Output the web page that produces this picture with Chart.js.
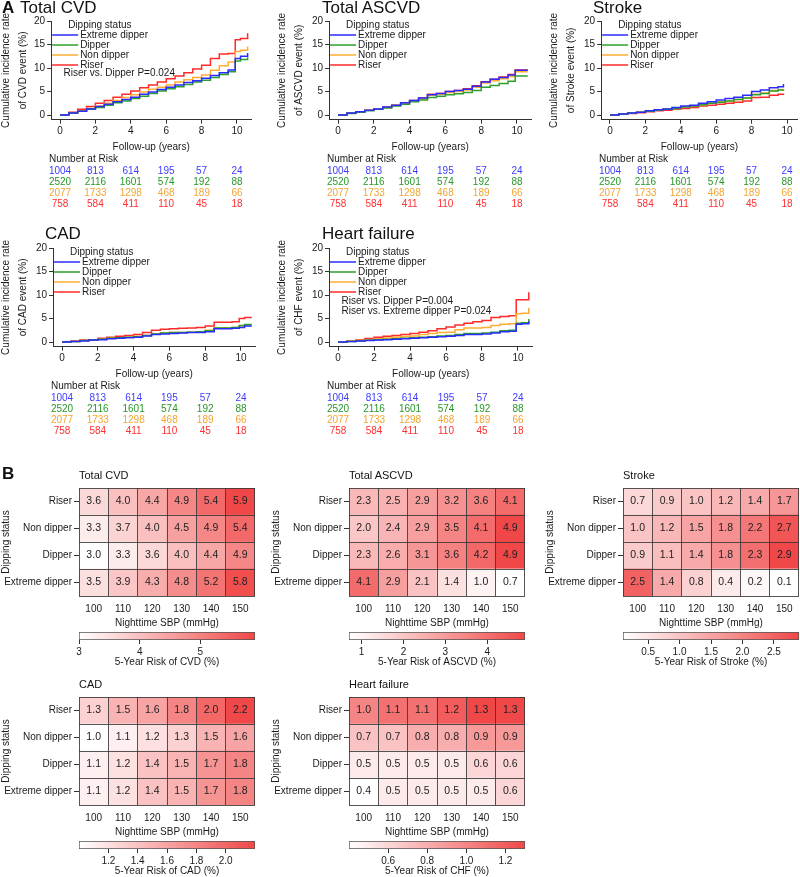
<!DOCTYPE html>
<html lang="en">
<head>
<meta charset="UTF-8">
<title>Dipping status, nighttime SBP and cardiovascular risk</title>
<script src="https://cdn.jsdelivr.net/npm/chart.js"></script>
<style>
  body { margin: 0; background: #fff; }
  #fig { position: relative; width: 800px; height: 877px; overflow: hidden; font-family: "Liberation Sans", Arial, sans-serif; color: #111; }
  #fig canvas { position: absolute; }
  .lbl { position: absolute; line-height: 1; white-space: nowrap; z-index: 2; }
  .letter { font-weight: bold; font-size: 17px; }
  .kmTitle { font-size: 17px; }
  .heatTitle { font-size: 11px; }
</style>
</head>
<body>
<div id="fig">
  <div class="lbl letter" style="left:2px;top:-1px">A</div>
  <div class="lbl kmTitle" style="left:20px;top:-1px">Total CVD</div>
  <div class="lbl kmTitle" style="left:322px;top:-1px">Total ASCVD</div>
  <div class="lbl kmTitle" style="left:593px;top:-1px">Stroke</div>
  <div class="lbl kmTitle" style="left:45px;top:225px">CAD</div>
  <div class="lbl kmTitle" style="left:322px;top:225px">Heart failure</div>

  <div class="lbl letter" style="left:2px;top:465px">B</div>
  <div class="lbl heatTitle" style="left:79px;top:470px">Total CVD</div>
  <div class="lbl heatTitle" style="left:349px;top:470px">Total ASCVD</div>
  <div class="lbl heatTitle" style="left:623px;top:470px">Stroke</div>
  <div class="lbl heatTitle" style="left:79px;top:679px">CAD</div>
  <div class="lbl heatTitle" style="left:349px;top:679px">Heart failure</div>

  <canvas id="kmCVD"></canvas>
  <canvas id="kmASCVD"></canvas>
  <canvas id="kmStroke"></canvas>
  <canvas id="kmCAD"></canvas>
  <canvas id="kmHF"></canvas>

  <canvas id="heatCVD"></canvas><canvas id="barCVD"></canvas>
  <canvas id="heatASCVD"></canvas><canvas id="barASCVD"></canvas>
  <canvas id="heatStroke"></canvas><canvas id="barStroke"></canvas>
  <canvas id="heatCAD"></canvas><canvas id="barCAD"></canvas>
  <canvas id="heatHF"></canvas><canvas id="barHF"></canvas>
</div>
<script>
// ---- shared labels / colours ----
const statusNames = ['Extreme dipper', 'Dipper', 'Non dipper', 'Riser'];
const statusColors = ['#2b2bff', '#2ca02c', '#ffad33', '#ff2b2b'];
const riskColors = ['#3c3cff', '#2a962a', '#f2a532', '#ff3030'];

// ---- panel A: cumulative incidence (%) ----
const kmXTicks = [0, 2, 4, 6, 8, 10];
const kmYTicks = [0, 5, 10, 15, 20];
const kmTimes = [0, 0.5, 1, 1.5, 2, 2.5, 3, 3.5, 4, 4.5, 5, 5.5, 6, 6.5, 7, 7.5, 8, 8.5, 9, 9.5, 9.9, 10.2, 10.6];
const strokeTimes = [0, 0.5, 1, 1.5, 2, 2.5, 3, 3.5, 4, 4.5, 5, 5.5, 6, 6.5, 7, 7.5, 8, 8.5, 9, 9.5, 9.8];

const cvdExtreme = [0, 0.4, 0.8, 1.3, 1.8, 2.3, 2.8, 3.3, 3.8, 4.4, 4.9, 5.4, 5.9, 6.4, 6.9, 7.3, 7.8, 8.4, 9.0, 9.6, 12.0, 12.5, 13.2];
const cvdDipper  = [0, 0.4, 0.8, 1.2, 1.6, 2.1, 2.6, 3.0, 3.5, 4.0, 4.6, 5.1, 5.6, 6.0, 6.5, 7.0, 7.4, 8.0, 8.6, 9.2, 11.5, 11.8, 12.3];
const cvdNon     = [0, 0.45, 0.9, 1.4, 1.9, 2.5, 3.1, 3.7, 4.3, 4.9, 5.5, 5.9, 6.4, 7.0, 7.5, 8.0, 8.5, 9.5, 10.5, 11.3, 13.5, 13.8, 14.6];
const cvdRiser   = [0, 0.6, 1.2, 1.8, 2.5, 3.1, 3.8, 4.4, 5.1, 5.8, 6.4, 7.0, 7.7, 8.3, 9.0, 9.8, 10.6, 12.0, 13.0, 13.1, 16.0, 16.3, 17.4];

const ascvdExtreme = [0, 0.4, 0.7, 1.0, 1.3, 1.7, 2.1, 2.6, 3.1, 3.6, 4.3, 4.6, 5.0, 5.2, 5.5, 6.1, 7.0, 7.6, 8.0, 8.5, 9.5, 9.5, 9.5];
const ascvdDipper  = [0, 0.3, 0.6, 0.9, 1.2, 1.5, 1.9, 2.3, 2.8, 3.2, 3.7, 4.0, 4.3, 4.5, 4.8, 5.2, 5.9, 6.3, 6.7, 7.2, 8.3, 8.3, 8.3];
const ascvdNon     = [0, 0.4, 0.7, 1.0, 1.3, 1.6, 2.0, 2.5, 3.0, 3.4, 4.2, 4.4, 4.8, 5.0, 5.3, 5.9, 6.8, 7.3, 7.7, 8.2, 9.2, 9.2, 9.2];
const ascvdRiser   = [0, 0.4, 0.7, 1.0, 1.3, 1.7, 2.1, 2.6, 3.1, 3.6, 4.4, 4.6, 5.0, 5.2, 5.6, 6.2, 7.1, 7.6, 8.1, 8.6, 9.6, 9.6, 9.6];

const strokeExtreme = [0, 0.2, 0.4, 0.6, 0.9, 1.1, 1.3, 1.6, 1.9, 2.1, 2.5, 2.8, 3.2, 3.5, 3.8, 4.2, 5.0, 5.3, 5.8, 6.0, 6.6];
const strokeDipper  = [0, 0.2, 0.4, 0.6, 0.8, 1.0, 1.2, 1.4, 1.7, 1.9, 2.2, 2.5, 2.7, 3.0, 3.3, 3.6, 4.3, 4.6, 5.1, 5.3, 5.4];
const strokeNon     = [0, 0.2, 0.4, 0.6, 0.8, 1.0, 1.2, 1.4, 1.7, 1.9, 2.2, 2.5, 2.8, 3.0, 3.3, 3.6, 4.4, 4.7, 5.2, 5.4, 5.5];
const strokeRiser   = [0, 0.2, 0.3, 0.5, 0.7, 0.9, 1.0, 1.2, 1.4, 1.6, 1.9, 2.1, 2.3, 2.5, 2.7, 3.0, 3.7, 3.8, 4.2, 4.4, 4.6];

const cadExtreme = [0, 0.1, 0.2, 0.4, 0.5, 0.7, 0.8, 0.9, 1.0, 1.3, 1.6, 1.7, 1.8, 1.9, 2.0, 2.0, 2.2, 2.8, 2.8, 2.9, 3.1, 3.4, 3.4];
const cadDipper  = [0, 0.1, 0.3, 0.4, 0.6, 0.8, 0.9, 1.0, 1.1, 1.4, 1.7, 1.9, 2.0, 2.0, 2.1, 2.2, 2.4, 3.0, 3.0, 3.1, 3.5, 3.7, 3.7];
const cadNon     = [0, 0.1, 0.3, 0.4, 0.6, 0.8, 0.9, 1.0, 1.2, 1.4, 1.7, 1.9, 2.0, 2.0, 2.1, 2.2, 2.5, 3.0, 3.0, 3.1, 3.4, 3.6, 3.6];
const cadRiser   = [0, 0.2, 0.4, 0.5, 0.8, 1.0, 1.2, 1.4, 1.6, 2.0, 2.5, 2.7, 2.8, 2.9, 3.0, 3.1, 3.4, 4.2, 4.2, 4.3, 5.0, 5.2, 5.2];

const hfExtreme = [0, 0.1, 0.2, 0.3, 0.4, 0.5, 0.6, 0.7, 0.8, 0.9, 1.0, 1.1, 1.2, 1.4, 1.6, 1.6, 1.7, 1.9, 2.2, 2.3, 3.8, 3.9, 4.4];
const hfDipper  = [0, 0.1, 0.2, 0.35, 0.5, 0.6, 0.7, 0.8, 0.9, 1.0, 1.1, 1.3, 1.4, 1.6, 1.8, 1.8, 1.9, 2.1, 2.4, 2.5, 4.0, 4.1, 4.9];
const hfNon     = [0, 0.2, 0.35, 0.5, 0.7, 0.85, 1.0, 1.15, 1.3, 1.6, 1.8, 2.0, 2.1, 2.6, 3.0, 3.0, 3.1, 3.5, 3.8, 3.9, 6.0, 6.1, 7.3];
const hfRiser   = [0, 0.25, 0.5, 0.75, 1.0, 1.2, 1.4, 1.6, 1.8, 2.1, 2.4, 2.8, 3.2, 3.6, 4.0, 4.3, 4.6, 5.2, 5.4, 5.6, 9.0, 9.0, 10.6];

// number at risk (same table under every panel)
const riskTimes = [0, 2, 4, 6, 8, 10];
const riskExtreme = [1004, 813, 614, 195, 57, 24];
const riskDipper  = [2520, 2116, 1601, 574, 192, 88];
const riskNon     = [2077, 1733, 1298, 468, 189, 66];
const riskRiser   = [758, 584, 411, 110, 45, 18];

// ---- panel B: 5-year risk (%), rows bottom -> top ----
const sbpLevels = ['100', '110', '120', '130', '140', '150'];
const dippingRows = ['Extreme dipper', 'Dipper', 'Non dipper', 'Riser'];
const heatCVD = [
  [3.5, 3.9, 4.3, 4.8, 5.2, 5.8],
  [3.0, 3.3, 3.6, 4.0, 4.4, 4.9],
  [3.3, 3.7, 4.0, 4.5, 4.9, 5.4],
  [3.6, 4.0, 4.4, 4.9, 5.4, 5.9]
];
const heatASCVD = [
  [4.1, 2.9, 2.1, 1.4, 1.0, 0.7],
  [2.3, 2.6, 3.1, 3.6, 4.2, 4.9],
  [2.0, 2.4, 2.9, 3.5, 4.1, 4.9],
  [2.3, 2.5, 2.9, 3.2, 3.6, 4.1]
];
const heatStroke = [
  [2.5, 1.4, 0.8, 0.4, 0.2, 0.1],
  [0.9, 1.1, 1.4, 1.8, 2.3, 2.9],
  [1.0, 1.2, 1.5, 1.8, 2.2, 2.7],
  [0.7, 0.9, 1.0, 1.2, 1.4, 1.7]
];
const heatCAD = [
  [1.1, 1.2, 1.4, 1.5, 1.7, 1.8],
  [1.1, 1.2, 1.4, 1.5, 1.7, 1.8],
  [1.0, 1.1, 1.2, 1.3, 1.5, 1.6],
  [1.3, 1.5, 1.6, 1.8, 2.0, 2.2]
];
const heatHF = [
  [0.4, 0.5, 0.5, 0.5, 0.5, 0.6],
  [0.5, 0.5, 0.5, 0.5, 0.6, 0.6],
  [0.7, 0.7, 0.8, 0.8, 0.9, 0.9],
  [1.0, 1.1, 1.1, 1.2, 1.3, 1.3]
];
const barTicksCVD = [3, 4, 5];
const barTicksASCVD = [1, 2, 3, 4];
const barTicksStroke = [0.5, 1.0, 1.5, 2.0, 2.5];
const barTicksCAD = [1.2, 1.4, 1.6, 1.8, 2.0];
const barTicksHF = [0.6, 0.8, 1.0, 1.2];

// ---- styling ----
const FONT = '"Liberation Sans Narrow", "Liberation Sans", Arial, sans-serif';
const TXT = '#1a1a1a';
const AXIS = '#333';
const CELL_LINE = 'rgba(55,55,55,0.85)';
const HEAT_HI = [240, 72, 72];

Chart.defaults.font.family = FONT;
Chart.defaults.font.size = 10;
Chart.defaults.color = TXT;
Chart.defaults.animation = false;

function place(id, left, top, w, h) {
  const c = document.getElementById(id);
  c.width = w; c.height = h;
  c.style.left = left + 'px'; c.style.top = top + 'px';
  return c;
}

// legend drawn inside the plot area, top-left
const kmLegend = {
  id: 'kmLegend',
  afterDatasetsDraw(chart) {
    const a = chart.chartArea, ctx = chart.ctx;
    ctx.save();
    ctx.font = '10px ' + FONT;
    ctx.textBaseline = 'middle';
    ctx.textAlign = 'left';
    ctx.fillStyle = TXT;
    ctx.fillText('Dipping status', a.left + 17, a.top + 4);
    chart.data.datasets.forEach((ds, i) => {
      const y = a.top + 14 + i * 10;
      ctx.strokeStyle = ds.borderColor;
      ctx.lineWidth = 1.5;
      ctx.beginPath(); ctx.moveTo(a.left + 1, y); ctx.lineTo(a.left + 27, y); ctx.stroke();
      ctx.fillStyle = TXT;
      ctx.fillText(ds.label, a.left + 29, y);
    });
    ctx.restore();
  }
};

function notesPlugin(notes) {
  return {
    id: 'kmNotes',
    afterDatasetsDraw(chart) {
      const ctx = chart.ctx, xs = chart.scales.x, ys = chart.scales.y;
      ctx.save();
      ctx.font = '10px ' + FONT;
      ctx.textBaseline = 'middle';
      ctx.textAlign = 'left';
      ctx.fillStyle = TXT;
      notes.forEach(n => ctx.fillText(n.text, xs.getPixelForValue(n.x), ys.getPixelForValue(n.y)));
      ctx.restore();
    }
  };
}

// number-at-risk table under the x axis
const kmRisk = {
  id: 'kmRisk',
  afterDraw(chart) {
    const ctx = chart.ctx, xs = chart.scales.x, ys = chart.scales.y;
    const base = ys.getPixelForValue(0);
    const rows = [riskExtreme, riskDipper, riskNon, riskRiser];
    ctx.save();
    ctx.font = '10px ' + FONT;
    ctx.textBaseline = 'middle';
    ctx.textAlign = 'left';
    ctx.fillStyle = TXT;
    ctx.fillText('Number at Risk', xs.getPixelForValue(0) - 11, base + 44);
    ctx.textAlign = 'center';
    rows.forEach((row, i) => {
      ctx.fillStyle = riskColors[i];
      row.forEach((n, j) => ctx.fillText(String(n), xs.getPixelForValue(riskTimes[j]), base + 56.5 + 11 * i));
    });
    ctx.restore();
  }
};

function drawKm(p) {
  const H = 211;
  const canvas = place(p.id, p.left, p.top, p.width, H);
  const xMin = -0.5;
  const chartLeft = p.x0 + xMin * p.k;
  const chartRight = p.x0 + p.xMax * p.k;
  const yAxisW = chartLeft - p.left;
  const padRight = p.left + p.width - chartRight;
  new Chart(canvas, {
    type: 'line',
    data: {
      datasets: statusNames.map((name, i) => ({
        label: name,
        data: p.times.map((t, j) => ({ x: t, y: p.series[i][j] })),
        borderColor: statusColors[i],
        borderWidth: 1.5,
        pointRadius: 0,
        stepped: 'before',
        fill: false
      }))
    },
    options: {
      responsive: false,
      animation: false,
      layout: { padding: { top: 21, right: padRight, bottom: 55.3, left: 0 } },
      plugins: { legend: { display: false }, tooltip: { enabled: false } },
      scales: {
        x: {
          type: 'linear', min: xMin, max: p.xMax,
          afterFit: s => { s.height = 36; },
          afterBuildTicks: s => { s.ticks = kmXTicks.map(v => ({ value: v })); },
          grid: { drawOnChartArea: false, tickLength: 4, color: AXIS },
          border: { color: AXIS },
          ticks: { padding: 2, color: TXT },
          title: { display: true, text: 'Follow-up (years)', color: TXT, padding: { top: 0, bottom: 2 } }
        },
        y: {
          type: 'linear', min: -1, max: 20,
          afterFit: s => { s.width = yAxisW; },
          afterBuildTicks: s => { s.ticks = kmYTicks.map(v => ({ value: v })); },
          grid: { drawOnChartArea: false, tickLength: 4, color: AXIS },
          border: { color: AXIS },
          ticks: { padding: 2, color: TXT },
          title: { display: true, text: p.yTitle, color: TXT, font: { size: 10, lineHeight: 1.75 }, padding: { top: -2.75, bottom: 0 } }
        }
      }
    },
    plugins: [kmLegend, notesPlugin(p.notes), kmRisk]
  });
}

drawKm({ id: 'kmCVD', left: 0, top: 0, width: 262, x0: 60, k: 17.7, xMax: 10.8, times: kmTimes,
  series: [cvdExtreme, cvdDipper, cvdNon, cvdRiser],
  yTitle: ['Cumulative incidence rate', 'of CVD event (%)'],
  notes: [{ x: 0.2, y: 8.9, text: 'Riser vs. Dipper P=0.024' }] });
drawKm({ id: 'kmASCVD', left: 276, top: 0, width: 262, x0: 338, k: 17.9, xMax: 10.8, times: kmTimes,
  series: [ascvdExtreme, ascvdDipper, ascvdNon, ascvdRiser],
  yTitle: ['Cumulative incidence rate', 'of ASCVD event (%)'], notes: [] });
drawKm({ id: 'kmStroke', left: 548, top: 0, width: 252, x0: 610, k: 17.7, xMax: 10.6, times: strokeTimes,
  series: [strokeExtreme, strokeDipper, strokeNon, strokeRiser],
  yTitle: ['Cumulative incidence rate', 'of Stroke event (%)'], notes: [] });
drawKm({ id: 'kmCAD', left: 0, top: 227, width: 262, x0: 62, k: 17.9, xMax: 10.8, times: kmTimes,
  series: [cadExtreme, cadDipper, cadNon, cadRiser],
  yTitle: ['Cumulative incidence rate', 'of CAD event (%)'], notes: [] });
drawKm({ id: 'kmHF', left: 276, top: 227, width: 262, x0: 338, k: 18, xMax: 10.8, times: kmTimes,
  series: [hfExtreme, hfDipper, hfNon, hfRiser],
  yTitle: ['Cumulative incidence rate', 'of CHF event (%)'],
  notes: [{ x: 0.2, y: 8.7, text: 'Riser vs. Dipper P=0.004' }, { x: 0.2, y: 6.6, text: 'Riser vs. Extreme dipper P=0.024' }] });

// ---- heatmaps ----
function heatColor(v, min, max) {
  const t = Math.max(0, Math.min(1, (v - min) / (max - min)));
  const c = HEAT_HI.map(h => Math.round(255 + (h - 255) * t));
  return `rgb(${c[0]},${c[1]},${c[2]})`;
}

const cellText = {
  id: 'cellText',
  afterDraw(chart) {
    const ctx = chart.ctx;
    ctx.save();
    ctx.font = '10.5px ' + FONT;
    ctx.textAlign = 'center';
    ctx.textBaseline = 'middle';
    ctx.fillStyle = '#222';
    chart.data.datasets.forEach((ds, i) => {
      chart.getDatasetMeta(i).data.forEach((el, j) => {
        ctx.fillText(ds.cellValues[j].toFixed(1), el.x, (el.y + el.base) / 2);
      });
    });
    ctx.restore();
  }
};

function drawHeat(h) {
  const yW = 79, cellsW = 176;
  const padRight = h.width - yW - cellsW;
  const flat = h.values.flat();
  const min = Math.min(...flat), max = Math.max(...flat);
  const gridTicks = Array.from({ length: dippingRows.length + 1 }, (_, i) => i);

  new Chart(place(h.id, h.left, h.top, h.width, 150), {
    type: 'bar',
    data: {
      labels: sbpLevels,
      datasets: h.values.map((row, r) => ({
        label: dippingRows[r],
        data: row.map(() => 1),
        cellValues: row,
        backgroundColor: row.map(v => heatColor(v, min, max)),
        borderWidth: 0,
        barPercentage: 1,
        categoryPercentage: 1
      }))
    },
    options: {
      responsive: false,
      animation: false,
      layout: { padding: { top: 4, right: padRight, bottom: 0, left: 0 } },
      plugins: { legend: { display: false }, tooltip: { enabled: false } },
      scales: {
        x: {
          stacked: true,
          afterFit: s => { s.height = 34; },
          grid: { z: 1, color: CELL_LINE, drawTicks: false, offset: true },
          border: { display: false },
          ticks: { padding: 7, color: TXT },
          title: { display: true, text: 'Nighttime SBP (mmHg)', color: TXT, padding: { top: 0, bottom: 1 } }
        },
        y: {
          stacked: true, min: 0, max: dippingRows.length,
          afterFit: s => { s.width = yW; },
          afterBuildTicks: s => { s.ticks = dippingRows.map((_, i) => ({ value: i + 0.5 })); },
          ticks: { padding: 2, color: TXT, callback: (v, i) => dippingRows[i] },
          grid: { drawOnChartArea: false, tickLength: 5, color: AXIS },
          border: { display: false },
          title: { display: true, text: 'Dipping status', color: TXT, padding: 0 }
        },
        yCells: {
          type: 'linear', position: 'left', min: 0, max: dippingRows.length,
          afterFit: s => { s.width = 0; },
          afterBuildTicks: s => { s.ticks = gridTicks.map(v => ({ value: v })); },
          ticks: { display: false },
          grid: { z: 1, color: CELL_LINE, drawTicks: false },
          border: { display: false }
        }
      }
    },
    plugins: [cellText]
  });

  // colour key
  new Chart(place(h.barId, h.left, h.top + 150, h.width, 38), {
    type: 'bar',
    data: {
      labels: [''],
      datasets: [{
        data: [[min, max]],
        backgroundColor: ctx => {
          const a = ctx.chart.chartArea;
          if (!a) return heatColor(max, min, max);
          const g = ctx.chart.ctx.createLinearGradient(a.left, 0, a.right, 0);
          g.addColorStop(0, heatColor(min, min, max));
          g.addColorStop(1, heatColor(max, min, max));
          return g;
        },
        borderColor: CELL_LINE,
        borderWidth: 1,
        borderSkipped: false,
        barPercentage: 1,
        categoryPercentage: 1
      }]
    },
    options: {
      indexAxis: 'y',
      responsive: false,
      animation: false,
      layout: { padding: { top: 2, right: padRight, bottom: 0, left: yW } },
      plugins: { legend: { display: false }, tooltip: { enabled: false } },
      scales: {
        y: { display: false },
        x: {
          type: 'linear', min: min, max: max,
          afterFit: s => { s.height = 28; },
          afterBuildTicks: s => { s.ticks = h.ticks.map(v => ({ value: v })); },
          ticks: { padding: 2, color: TXT, callback: v => v.toFixed(h.decimals) },
          grid: { drawOnChartArea: false, tickLength: 4, color: AXIS },
          border: { display: false },
          title: { display: true, text: h.barLabel, color: TXT, padding: 0 }
        }
      }
    }
  });
}

drawHeat({ id: 'heatCVD', barId: 'barCVD', left: 0, top: 480, width: 262, values: heatCVD,
  ticks: barTicksCVD, decimals: 0, barLabel: '5-Year Risk of CVD (%)' });
drawHeat({ id: 'heatASCVD', barId: 'barASCVD', left: 270, top: 480, width: 262, values: heatASCVD,
  ticks: barTicksASCVD, decimals: 0, barLabel: '5-Year Risk of ASCVD (%)' });
drawHeat({ id: 'heatStroke', barId: 'barStroke', left: 544, top: 480, width: 256, values: heatStroke,
  ticks: barTicksStroke, decimals: 1, barLabel: '5-Year Risk of Stroke (%)' });
drawHeat({ id: 'heatCAD', barId: 'barCAD', left: 0, top: 689, width: 262, values: heatCAD,
  ticks: barTicksCAD, decimals: 1, barLabel: '5-Year Risk of CAD (%)' });
drawHeat({ id: 'heatHF', barId: 'barHF', left: 270, top: 689, width: 262, values: heatHF,
  ticks: barTicksHF, decimals: 1, barLabel: '5-Year Risk of CHF (%)' });
</script>
</body>
</html>
